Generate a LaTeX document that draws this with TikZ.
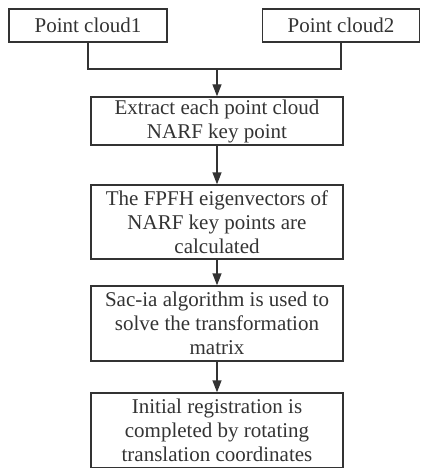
\documentclass[tikz,border=0pt]{standalone}
\usepackage{fontspec}
\setmainfont{Liberation Serif}
\usetikzlibrary{arrows.meta}
\definecolor{ink}{HTML}{333333}
\begin{document}
\begin{tikzpicture}[x=1pt,y=-1pt,
  box/.style={draw=ink, line width=1.4pt, text=ink, inner sep=0pt, align=center,
    font=\fontsize{21}{24}\selectfont},
  wide/.style={box, minimum width=252pt},
  conn/.style={draw=ink, line width=1.4pt},
  arr/.style={conn, -{Triangle[length=12pt,width=9pt]}}]
\useasboundingbox (0,0) rectangle (420,468);
\node[box, minimum width=158pt, minimum height=33pt] (p1) at (88,25.5) {Point cloud1};
\node[box, minimum width=157pt, minimum height=33pt] (p2) at (341,25.5) {Point cloud2};
\node[wide, minimum height=48pt] (b3) at (217,121) {Extract each point cloud\\NARF key point};
\node[wide, minimum height=74pt] (b4) at (217,222) {The FPFH eigenvectors of\\NARF key points are\\calculated};
\node[wide, minimum height=75pt] (b5) at (217,323.5) {Sac-ia algorithm is used to\\solve the transformation\\matrix};
\node[wide, minimum height=75pt] (b6) at (217,430.5) {Initial registration is\\completed by rotating\\translation coordinates};
\coordinate (j) at (217,69);
\draw[conn] (p1.south) |- (j) -| (p2.south);
\draw[arr] (j) -- (b3.north);
\draw[arr] (b3) -- (b4);
\draw[arr] (b4) -- (b5);
\draw[arr] (b5) -- (b6);
\end{tikzpicture}
\end{document}
